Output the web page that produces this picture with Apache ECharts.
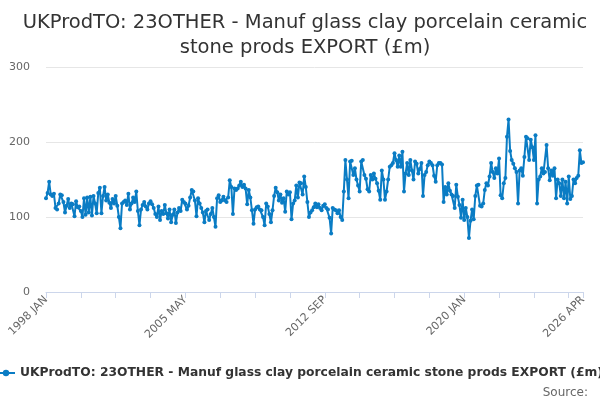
<!DOCTYPE html>
<html>
<head>
<meta charset="utf-8">
<script src="https://cdn.jsdelivr.net/npm/echarts@6/dist/echarts.min.js"></script>
<style>
  html, body { margin: 0; padding: 0; background: #fff; }
  #chart { width: 600px; height: 400px; }
</style>
</head>
<body>
<div id="chart"></div>
<script>
var firstYear = 1998;
var monthNames = ['JAN', 'FEB', 'MAR', 'APR', 'MAY', 'JUN', 'JUL', 'AUG', 'SEP', 'OCT', 'NOV', 'DEC'];
var yTicks = [0, 100, 200, 300];

// monthly values, one row per year (1998 .. 2026 Apr)
var exportValues = [
    125, 132, 147, 130, 128, 131, 112, 110, 118, 130, 129, 120,
    106, 115, 124, 112, 118, 117, 101, 121, 113, 114, 108, 100,
    125, 103, 126, 106, 127, 102, 128, 118, 105, 132, 139, 105,
    128, 140, 122, 130, 119, 112, 124, 118, 128, 115, 100, 85,
    118, 120, 122, 116, 131, 110, 118, 126, 120, 134, 108, 89,
    110, 116, 120, 114, 110, 118, 121, 117, 112, 104, 100, 114,
    96, 108, 104, 116, 105, 98, 110, 93, 103, 110, 92, 106,
    112, 108, 123, 120, 118, 110, 115, 126, 136, 134, 122, 101,
    125, 118, 112, 106, 93, 108, 110, 96, 104, 112, 100, 87,
    125, 129, 120, 122, 127, 122, 120, 126, 149, 140, 104, 138,
    136, 138, 142, 147, 140, 143, 138, 117, 136, 126, 109, 91,
    110, 113, 114, 110, 109, 100, 89, 118, 114, 104, 93, 109,
    128, 139, 133, 122, 130, 119, 125, 107, 134, 130, 133, 97,
    118, 122, 142, 126, 146, 145, 130, 154, 140, 120, 100, 106,
    109, 113, 118, 113, 117, 112, 109, 115, 117, 112, 110, 99,
    78, 112, 110, 109, 105, 109, 100, 96, 134, 176, 150, 125,
    174, 175, 156, 165, 150, 142, 134, 174, 176, 156, 151, 137,
    134, 156, 150, 158, 151, 145, 135, 123, 162, 150, 123, 134,
    150, 167, 169, 172, 185, 176, 167, 182, 167, 187, 134, 158,
    172, 156, 176, 162, 150, 174, 171, 158, 164, 172, 128, 156,
    160, 169, 174, 172, 169, 155, 147, 169, 172, 172, 170, 120,
    140, 130, 145, 135, 130, 128, 112, 143, 127, 116, 99, 123,
    96, 112, 100, 72, 95, 110, 97, 128, 142, 143, 115, 114,
    118, 136, 145, 142, 154, 172, 160, 152, 165, 158, 178, 129,
    125, 145, 152, 207, 230, 188, 176, 171, 165, 160, 118, 162,
    165, 155, 180, 207, 205, 176, 203, 193, 176, 209, 118, 150,
    154, 165, 158, 160, 196, 165, 149, 162, 155, 165, 125, 150,
    145, 128, 150, 125, 147, 118, 154, 124, 128, 150, 145, 152,
    155, 189, 172, 173
];

var monthLabels = exportValues.map(function (v, i) {
    return (firstYear + Math.floor(i / 12)) + ' ' + monthNames[i % 12];
});
var lastIndex = exportValues.length - 1;

var seriesName = 'UKProdTO: 23OTHER - Manuf glass clay porcelain ceramic stone prods EXPORT (£m)';

var chart = echarts.init(document.getElementById('chart'));
var option = {
    animation: false,
    textStyle: { fontFamily: 'DejaVu Sans' },
    title: [
        {
            text: 'UKProdTO: 23OTHER - Manuf glass clay porcelain ceramic\nstone prods EXPORT (£m)',
            left: 300,
            top: 5,
            textAlign: 'center',
            textStyle: { fontSize: 19.5, fontWeight: 'normal', color: '#333', lineHeight: 25, fontFamily: 'DejaVu Sans' }
        },
        {
            text: 'Source:',
            right: 7,
            top: 382,
            textStyle: { fontSize: 12, fontWeight: 'normal', color: '#666', fontFamily: 'DejaVu Sans' }
        }
    ],
    legend: {
        data: [seriesName],
        left: -9,
        top: 362,
        itemWidth: 18,
        itemHeight: 8,
        itemGap: 5,
        textStyle: { fontSize: 12.3, fontWeight: 'bold', color: '#333' }
    },
    grid: { left: 46, right: 17, top: 67, bottom: 108 },
    xAxis: {
        type: 'category',
        boundaryGap: false,
        data: monthLabels,
        axisLine: { lineStyle: { color: '#ccd6eb' } },
        axisTick: {
            length: 6,
            lineStyle: { color: '#ccd6eb' },
            interval: function (i) { return i % 22 === 0 || i === lastIndex; }
        },
        axisLabel: {
            rotate: 45,
            color: '#666',
            fontSize: 11,
            margin: 6,
            interval: function (i) { return i % 88 === 0 || i === lastIndex; }
        }
    },
    yAxis: {
        type: 'value',
        min: yTicks[0],
        max: yTicks[yTicks.length - 1],
        interval: 100,
        axisLine: { show: false },
        axisTick: { show: false },
        axisLabel: { color: '#666', fontSize: 11, margin: 16 },
        splitLine: { lineStyle: { color: '#e6e6e6' } }
    },
    series: [
        {
            name: seriesName,
            type: 'line',
            data: exportValues,
            symbol: 'circle',
            symbolSize: 4,
            showAllSymbol: true,
            itemStyle: { color: '#0a7cc4' },
            lineStyle: { color: '#0a7cc4', width: 2 }
        }
    ]
};
chart.setOption(option);
</script>
</body>
</html>
